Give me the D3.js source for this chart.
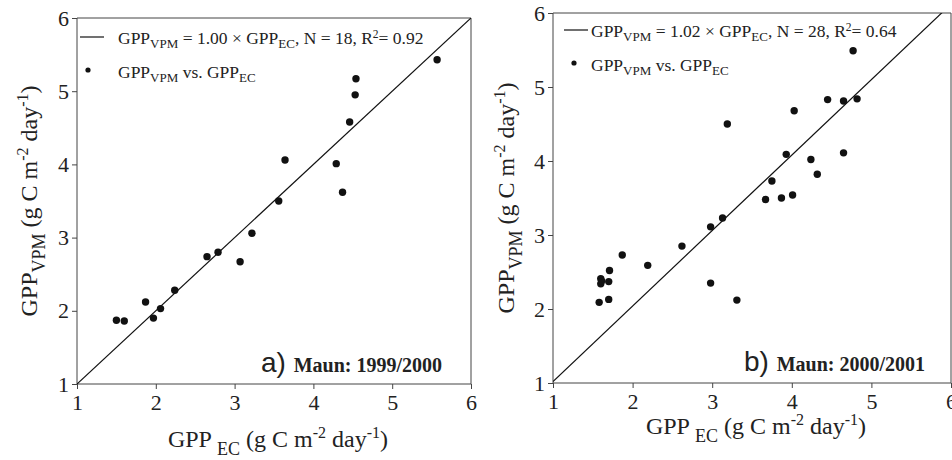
<!DOCTYPE html>
<html><head><meta charset="utf-8">
<script src="https://cdn.jsdelivr.net/npm/d3@7"></script>
<style>
body{margin:0;background:#fff;}
svg{display:block;}
svg text{font-family:"Liberation Serif","Times New Roman",serif;}
</style></head>
<body>
<svg id="chart" width="952" height="460"></svg>
<script>
// ---- data ----
const ticks = [1, 2, 3, 4, 5, 6];
const domain = [1, 6];

const aX = [5.57, 4.54, 4.53, 4.46, 3.64, 4.29, 4.37, 3.56, 3.22, 2.79, 2.65, 3.07, 2.24, 1.87, 2.06, 1.97, 1.50, 1.60];
const aY = [5.43, 5.17, 4.95, 4.58, 4.06, 4.01, 3.62, 3.50, 3.06, 2.80, 2.74, 2.67, 2.28, 2.12, 2.03, 1.90, 1.87, 1.86];

const bX = [4.77, 4.45, 4.65, 4.82, 3.19, 4.03, 3.93, 4.65, 4.24, 4.32, 3.75, 3.67, 3.87, 4.01, 3.13, 2.98,
            2.62, 1.87, 2.19, 1.71, 1.60, 1.60, 1.61, 1.70, 2.98, 1.70, 1.58, 3.31];
const bY = [5.49, 4.83, 4.81, 4.84, 4.50, 4.68, 4.09, 4.11, 4.02, 3.82, 3.73, 3.48, 3.50, 3.54, 3.23, 3.11,
            2.85, 2.73, 2.59, 2.52, 2.41, 2.34, 2.38, 2.37, 2.35, 2.13, 2.09, 2.12];

const slopes = [1.00, 1.02];
const nObs = [18, 28];
const r2 = ["0.92", "0.64"];
const panelLetters = ["a)", "b)"];
const panelTitles = ["Maun: 1999/2000", "Maun: 2000/2001"];

// ---- layout ----
const panels = [
  {x0: 77, x1: 471, y0: 18, y1: 384, xs: aX, ys: aY, yTitleX: 37, xTitleY: 447, legX: 80, legY: 37, legTx: 118, lblR: 442},
  {x0: 553, x1: 951, y0: 13, y1: 383, xs: bX, ys: bY, yTitleX: 514, xTitleY: 434, legX: 564, legY: 30, legTx: 591, lblR: 925}
];

const SERIF = '"Liberation Serif","Times New Roman",serif';
const svg = d3.select("#chart");
const frameColor = "#444";

panels.forEach((p, i) => {
  const x = d3.scaleLinear().domain(domain).range([p.x0, p.x1]);
  const y = d3.scaleLinear().domain(domain).range([p.y1, p.y0]);
  const g = svg.append("g");

  const cid = "clip" + i;
  svg.append("clipPath").attr("id", cid).append("rect")
    .attr("x", p.x0).attr("y", p.y0).attr("width", p.x1 - p.x0).attr("height", p.y1 - p.y0);

  // axes
  const xa = g.append("g").attr("transform", `translate(0,${p.y1})`)
    .call(d3.axisBottom(x).tickValues(ticks).tickFormat(d3.format("d")).tickSize(5).tickPadding(5));
  const ya = g.append("g").attr("transform", `translate(${p.x0},0)`)
    .call(d3.axisLeft(y).tickValues(ticks).tickFormat(d3.format("d")).tickSize(5).tickPadding(3));
  [xa, ya].forEach(a => {
    a.attr("font-family", SERIF).attr("font-size", 22);
    a.select(".domain").attr("stroke", frameColor);
    a.selectAll(".tick line").attr("stroke", frameColor);
    a.selectAll(".tick text").attr("fill", "#222").style("font-family", SERIF).style("font-size", "22px");
  });
  xa.select(".domain").attr("d", `M${p.x0},0H${p.x1}`);
  ya.select(".domain").attr("d", `M0,${p.y0}V${p.y1}`);

  // top / right frame
  g.append("line").attr("x1", p.x0).attr("x2", p.x1).attr("y1", p.y0).attr("y2", p.y0)
    .attr("stroke", frameColor);
  g.append("line").attr("x1", p.x1).attr("x2", p.x1).attr("y1", p.y0).attr("y2", p.y1)
    .attr("stroke", frameColor);

  // regression line
  g.append("line").attr("clip-path", `url(#${cid})`)
    .attr("x1", x(domain[0])).attr("y1", y(slopes[i] * domain[0]))
    .attr("x2", x(domain[1])).attr("y2", y(slopes[i] * domain[1]))
    .attr("stroke", "#111").attr("stroke-width", 1.2);

  // points
  g.selectAll("circle.pt").data(p.xs.map((v, k) => [v, p.ys[k]])).join("circle")
    .attr("class", "pt").attr("cx", d => x(d[0])).attr("cy", d => y(d[1])).attr("r", 3.7)
    .attr("fill", "#111");

  // legend
  const leg = g.append("g").attr("fill", "#222").style("font-size", "17.5px");
  leg.append("line").attr("x1", p.legX).attr("x2", p.legX + 24).attr("y1", p.legY).attr("y2", p.legY)
    .attr("stroke", "#111").attr("stroke-width", 1.2);
  const t1 = leg.append("text").attr("x", p.legTx).attr("y", p.legY + 7);
  t1.append("tspan").text("GPP");
  t1.append("tspan").attr("dy", 4).style("font-size", "13px").text("VPM");
  t1.append("tspan").attr("dy", -4).text(` = ${slopes[i].toFixed(2)} × GPP`);
  t1.append("tspan").attr("dy", 4).style("font-size", "13px").text("EC");
  t1.append("tspan").attr("dy", -4).text(`, N = ${nObs[i]}, R`);
  t1.append("tspan").attr("dy", -6).style("font-size", "11.5px").text("2");
  t1.append("tspan").attr("dy", 6).text(`= ${r2[i]}`);

  leg.append("circle").attr("cx", p.legX + (i === 0 ? 8 : 10)).attr("cy", p.legY + 33).attr("r", 2.6).attr("fill", "#111");
  const t2 = leg.append("text").attr("x", p.legTx).attr("y", p.legY + 41);
  t2.append("tspan").text("GPP");
  t2.append("tspan").attr("dy", 4).style("font-size", "13px").text("VPM");
  t2.append("tspan").attr("dy", -4).text(" vs. GPP");
  t2.append("tspan").attr("dy", 4).style("font-size", "13px").text("EC");

  // panel label
  const pl = g.append("text").attr("text-anchor", "end")
    .attr("x", p.lblR).attr("y", p.y1 - 12).attr("fill", "#222");
  pl.append("tspan").style("font-family", '"Liberation Sans Narrow","Liberation Sans",sans-serif')
    .style("font-size", "28px").text(panelLetters[i] + " ");
  pl.append("tspan").style("font-size", "20px").style("font-weight", "bold").text(panelTitles[i]);

  // x title
  const xt = g.append("text").attr("text-anchor", "middle")
    .attr("x", (p.x0 + p.x1) / 2 + 4).attr("y", p.xTitleY).attr("fill", "#222").style("font-size", "24px");
  xt.append("tspan").text("GPP ");
  xt.append("tspan").attr("dy", 8).style("font-size", "18px").text("EC");
  xt.append("tspan").attr("dy", -8).text(" (g C m");
  xt.append("tspan").attr("dy", -9).style("font-size", "16px").text("-2");
  xt.append("tspan").attr("dy", 9).text(" day");
  xt.append("tspan").attr("dy", -9).style("font-size", "16px").text("-1");
  xt.append("tspan").attr("dy", 9).text(")");

  // y title
  const cy = (p.y0 + p.y1) / 2;
  const yt = g.append("text").attr("text-anchor", "middle")
    .attr("transform", `translate(${p.yTitleX},${cy}) rotate(-90)`)
    .attr("fill", "#222").style("font-size", "24px");
  yt.append("tspan").text("GPP");
  yt.append("tspan").attr("dy", 8).style("font-size", "18px").text("VPM");
  yt.append("tspan").attr("dy", -8).text(" (g C m");
  yt.append("tspan").attr("dy", -9).style("font-size", "16px").text("-2");
  yt.append("tspan").attr("dy", 9).text(" day");
  yt.append("tspan").attr("dy", -9).style("font-size", "16px").text("-1");
  yt.append("tspan").attr("dy", 9).text(")");
});
</script>
</body></html>
